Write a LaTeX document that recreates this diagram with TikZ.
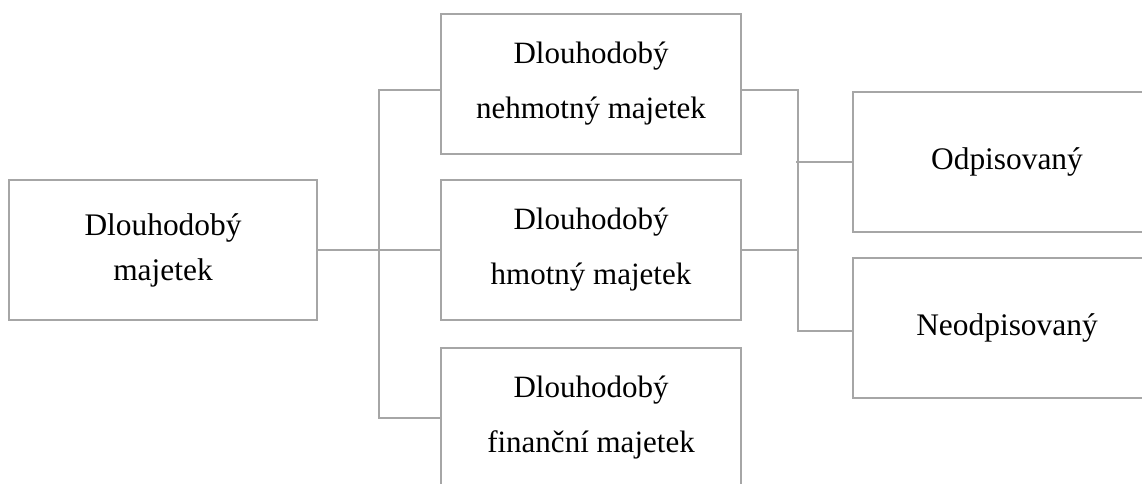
\documentclass[tikz,border=0pt]{standalone}
\usepackage{fontspec}
\setmainfont{Liberation Serif}
\definecolor{boxgray}{RGB}{166,166,166}
\begin{document}
\begin{tikzpicture}[x=1pt,y=-1pt,
        box/.style={draw=boxgray, line width=2.2pt, align=center, inner sep=0pt,
            minimum height=140pt, font=\fontsize{31.4}{45}\selectfont},
        midbox/.style={box, minimum width=300pt, font=\fontsize{31}{55}\selectfont},
        link/.style={draw=boxgray, line width=2.2pt}]
    \useasboundingbox (0,0) rectangle (1142,484);
    \clip (0,0) rectangle (1142,484);

    % root
    \node[box, minimum width=308pt] (dm) at (163,250) {Dlouhodobý\\majetek};

    % middle column
    \node[midbox] (dnm) at (591,84) {Dlouhodobý\\nehmotný majetek};
    \node[midbox] (dhm) at (591,250) {Dlouhodobý\\hmotný majetek};
    \node[midbox] (dfm) at (591,418) {Dlouhodobý\\finanční majetek};

    % right column
    \node[box, minimum width=308pt] (odp) at (1007,162) {Odpisovaný};
    \node[box, minimum width=308pt] (neo) at (1007,328) {Neodpisovaný};

    % left branch
    \draw[link] (dm.east) -- (dhm.west);
    \draw[link] ([yshift=-6pt]dnm.west) -- ++(-61,0) |- (dfm.west);

    % right branch
    \draw[link] ([yshift=-6pt]dnm.east) -- ++(56,0) |- ([yshift=-3pt]neo.west);
    \draw[link] (dhm.east) -- ++(56,0);
    \draw[link] (odp.west) -- ++(-56,0);
\end{tikzpicture}
\end{document}
